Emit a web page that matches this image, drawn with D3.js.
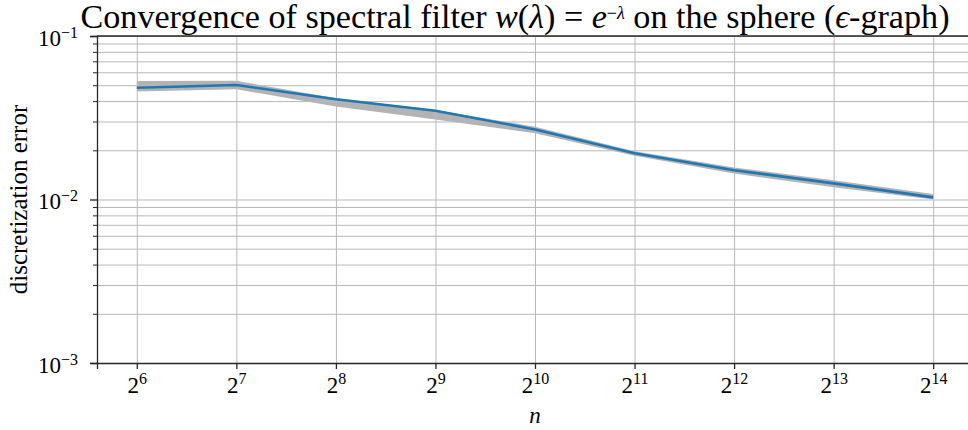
<!DOCTYPE html>
<html>
<head>
<meta charset="utf-8">
<script src="https://cdn.jsdelivr.net/npm/d3@7"></script>
<style>
  html, body { margin: 0; padding: 0; background: #ffffff; overflow: hidden; }
  svg { display: block; }
  text { font-family: "Liberation Serif", "DejaVu Serif", serif; fill: #000; }
</style>
</head>
<body>
<svg id="chart" width="968" height="430"></svg>
<script>
// ---- data ----
const exponents = [6, 7, 8, 9, 10, 11, 12, 13, 14];          // n = 2^k
const meanError = [0.0483, 0.0502, 0.0410, 0.0349, 0.0268, 0.0192, 0.0151, 0.01255, 0.0103];
const upperError = [0.0530, 0.0532, 0.0416, 0.0353, 0.0279, 0.0197, 0.0157, 0.0131, 0.0108];
const lowerError = [0.0457, 0.0472, 0.0370, 0.0309, 0.0254, 0.0185, 0.0144, 0.0119, 0.0100];
const yMajorTicks = [1e-3, 1e-2, 1e-1];
const yMajorExponents = ["−3", "−2", "−1"];
const xTickExponents = ["6", "7", "8", "9", "10", "11", "12", "13", "14"];

(function () {
const svg = d3.select("#chart");
const mLeft = 97, mRight = 973, mTop = 36, mBottom = 363;
const pad = Math.pow(2, 0.4);

const nVals = exponents.map(k => Math.pow(2, k));
const x = d3.scaleLog().base(2)
  .domain([nVals[0] / pad, nVals[nVals.length - 1] * pad])
  .range([mLeft, mRight]);
const y = d3.scaleLog().base(10).domain([1e-3, 1e-1]).range([mBottom, mTop]);

const yMinor = [];
for (let d = 1e-3; d < 1e-1 - 1e-12; d *= 10) {
  for (let m = 2; m <= 9; m++) yMinor.push(m * d);
}

const gridColor = "#b8b8b8";

// ---- band ----
const bandData = exponents.map((k, i) => ({ n: nVals[i], lo: lowerError[i], hi: upperError[i] }));
svg.append("path")
  .datum(bandData)
  .attr("d", d3.area().x(d => x(d.n)).y0(d => y(d.lo)).y1(d => y(d.hi)))
  .attr("fill", "#9a9a9a")
  .attr("fill-opacity", 0.75)
  .attr("stroke", "none");

// ---- grids ----
const gridY = svg.append("g").attr("transform", `translate(${mLeft},0)`)
  .call(d3.axisLeft(y).tickValues(yMajorTicks.concat(yMinor)).tickSize(-(mRight - mLeft)).tickFormat(""));
gridY.select(".domain").remove();
gridY.selectAll(".tick line").attr("stroke", gridColor).attr("stroke-width", 1);

const gridX = svg.append("g").attr("transform", `translate(0,${mBottom})`)
  .call(d3.axisBottom(x).tickValues(nVals).tickSize(-(mBottom - mTop)).tickFormat(""));
gridX.select(".domain").remove();
gridX.selectAll(".tick line").attr("stroke", gridColor).attr("stroke-width", 1);

// ---- mean line ----
const lineData = exponents.map((k, i) => ({ n: nVals[i], v: meanError[i] }));
svg.append("path")
  .datum(lineData)
  .attr("d", d3.line().x(d => x(d.n)).y(d => y(d.v)))
  .attr("fill", "none")
  .attr("stroke", "#1f77b4")
  .attr("stroke-width", 2.6)
  .attr("stroke-linejoin", "round");

// ---- axes ----
const axisColor = "#262626";
const yAxis = svg.append("g").attr("transform", `translate(${mLeft},0)`)
  .call(d3.axisLeft(y).tickValues(yMajorTicks).tickSize(7).tickPadding(12).tickFormat(""));
yAxis.select(".domain").attr("stroke", axisColor).attr("stroke-width", 1.3);
yAxis.selectAll(".tick line").attr("stroke", axisColor).attr("stroke-width", 1.3);
yAxis.selectAll(".tick text").each(function(d, i) {
  const t = d3.select(this).attr("dy", null).attr("y", 9).attr("font-size", 23);
  t.text(null);
  t.append("tspan").text("10");
  t.append("tspan").attr("font-size", 16).attr("dy", -8).text(yMajorExponents[i]);
});

const yMinorAxis = svg.append("g").attr("transform", `translate(${mLeft},0)`)
  .call(d3.axisLeft(y).tickValues(yMinor).tickSize(4).tickFormat(""));
yMinorAxis.select(".domain").remove();
yMinorAxis.selectAll(".tick line").attr("stroke", axisColor).attr("stroke-width", 1);

const xAxis = svg.append("g").attr("transform", `translate(0,${mBottom})`)
  .call(d3.axisBottom(x).tickValues(nVals).tickSize(6).tickFormat(""));
xAxis.select(".domain").attr("stroke", axisColor).attr("stroke-width", 1.3);
xAxis.selectAll(".tick line").attr("stroke", axisColor).attr("stroke-width", 1.3);
xAxis.selectAll(".tick text").each(function(d, i) {
  const t = d3.select(this).attr("dy", null).attr("y", 30).attr("font-size", 23);
  t.text(null);
  t.append("tspan").text("2");
  t.append("tspan").attr("font-size", 16).attr("dy", -9).text(xTickExponents[i]);
});

// top spine
svg.append("line").attr("x1", mLeft).attr("x2", mRight).attr("y1", mTop).attr("y2", mTop)
  .attr("stroke", axisColor).attr("stroke-width", 1.3);

// ---- labels ----
svg.append("text")
  .attr("x", (mLeft + mRight) / 2).attr("y", 423)
  .attr("text-anchor", "middle").attr("font-size", 23).attr("font-style", "italic")
  .text("n");

svg.append("text")
  .attr("transform", `translate(27,${(mTop + mBottom) / 2}) rotate(-90)`)
  .attr("text-anchor", "middle").attr("font-size", 25)
  .text("discretization error");

// ---- title ----
const title = svg.append("text")
  .attr("x", 515).attr("y", 28)
  .attr("text-anchor", "middle").attr("font-size", 26);
title.append("tspan").text("Convergence of spectral filter ");
title.append("tspan").attr("font-style", "italic").text("w");
title.append("tspan").text("(");
title.append("tspan").attr("font-style", "italic").text("λ");
title.append("tspan").text(") = ");
title.append("tspan").attr("font-style", "italic").text("e");
title.append("tspan").attr("font-size", 18).attr("dy", -9).text("−");
title.append("tspan").attr("font-size", 18).attr("font-style", "italic").text("λ");
title.append("tspan").attr("dy", 9).text(" on the sphere (");
title.append("tspan").attr("font-style", "italic").text("ϵ");
title.append("tspan").text("-graph)");
// fit title to the reference width (x 75 .. 955)
const bb = title.node().getBBox();
const fs = 26 * 875 / bb.width;
title.attr("font-size", fs);
const bb2 = title.node().getBBox();
title.attr("x", +title.attr("x") + (515 - (bb2.x + bb2.width / 2)));
})();
</script>
</body>
</html>
